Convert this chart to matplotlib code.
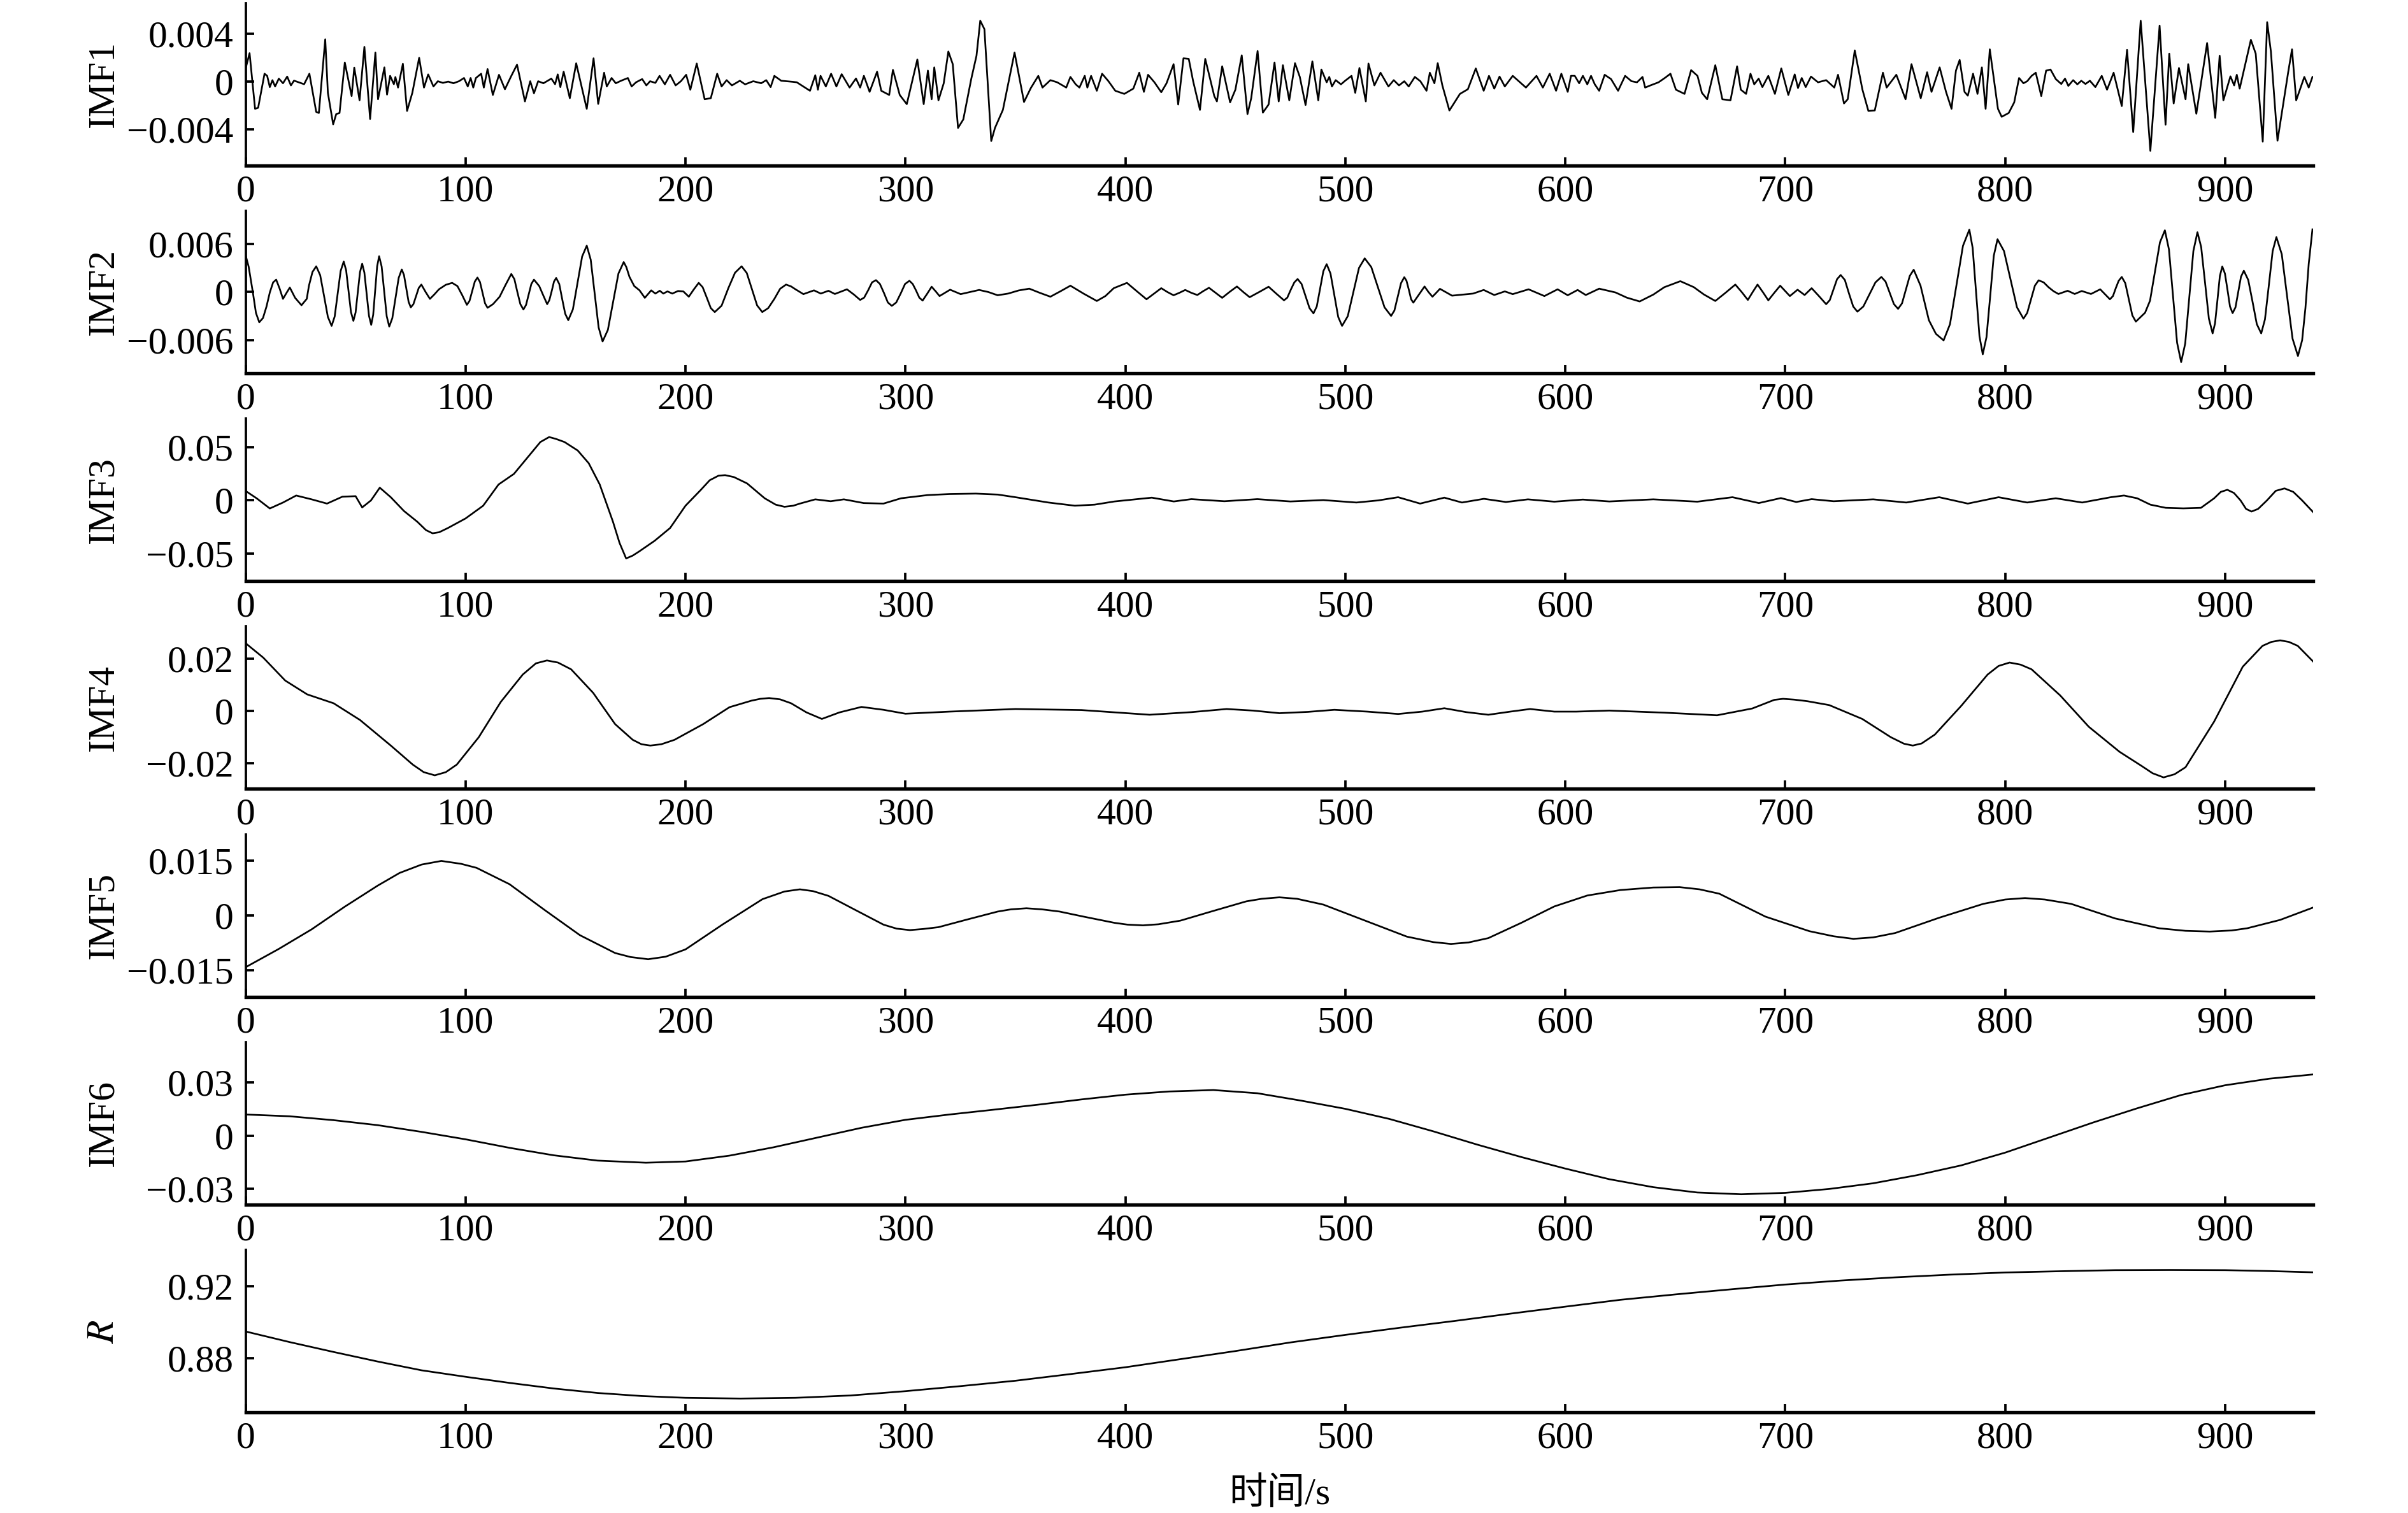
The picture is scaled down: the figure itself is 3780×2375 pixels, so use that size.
import matplotlib
matplotlib.use('Agg')
import matplotlib.pyplot as plt
import numpy as np

plt.rcParams['font.family'] = ['Liberation Serif', 'Noto Sans CJK SC', 'DejaVu Sans']
plt.rcParams['mathtext.fontset'] = 'stix'

# ---- data (time in s) ----
imf1_t = [0, 1.8, 4.3, 5.7, 8.6, 9.8, 11.0, 12.2, 13.4, 15.1, 17.0, 18.9, 20.6, 22.0, 26.6, 29.0, 32.1, 33.3,
          36.2, 37.4, 39.8, 41.2, 42.7, 45.1, 48.2, 49.4, 51.8, 54.0, 56.6, 59.0, 60.2, 63.1, 64.3, 65.7, 67.4,
          68.1, 69.3, 71.5, 73.4, 75.8, 78.9, 81.1, 83.0, 85.4, 87.4, 89.7, 92.1, 94.5, 97.0, 99.3, 101.0, 102.3,
          103.5, 104.7, 107.1, 108.3, 110.0, 112.4, 115.2, 117.9, 120.7, 123.4, 127.0, 129.4, 131.1, 133.0, 135.4,
          139.0, 140.7, 141.9, 143.1, 144.6, 147.4, 150.3, 155.1, 158.2, 160.3, 163.0, 164.2, 166.4, 168.3, 170.7,
          173.8, 175.5, 177.5, 180.3, 182.2, 183.9, 186.3, 188.2, 190.6, 193.0, 195.5, 197.9, 200.3, 202.2, 205.1,
          208.7, 211.5, 214.4, 216.4, 218.7, 221.1, 224.7, 227.1, 230.8, 234.4, 236.7, 238.7, 240.4, 243.5, 248.8,
          250.6, 256.6, 259.0, 260.2, 261.4, 263.8, 266.2, 268.6, 271.0, 274.6, 277.5, 279.4, 281.1, 283.7, 287.1,
          289.0, 292.6, 294.3, 297.4, 300.6, 305.4, 308.3, 310.2, 311.9, 313.1, 315.0, 317.4, 319.5, 321.5, 323.9,
          326.3, 329.9, 332.3, 334.0, 335.9, 339.0, 340.7, 344.3, 349.6, 353.9, 357.0, 360.4, 362.3, 365.9, 369.0,
          373.1, 375.0, 377.4, 379.1, 381.5, 382.7, 384.4, 387.0, 389.4, 392.3, 395.4, 399.5, 403.6, 406.3, 408.4,
          410.3, 413.2, 416.3, 418.7, 421.9, 424.0, 426.4, 428.8, 430.8, 433.9, 436.3, 440.4, 441.6, 444.0, 447.6,
          450.0, 452.9, 455.5, 457.2, 460.1, 462.5, 465.1, 467.8, 469.7, 471.6, 474.5, 477.1, 479.3, 481.9, 485.0,
          487.7, 489.1, 491.5, 492.7, 493.9, 495.6, 498.0, 499.9, 502.8, 504.5, 506.4, 509.3, 510.5, 513.2, 516.0,
          519.6, 522.0, 524.4, 526.8, 528.8, 531.6, 534.1, 536.9, 538.4, 540.5, 542.0, 544.1, 547.3, 552.1, 555.7,
          559.3, 562.9, 565.3, 567.7, 570.1, 572.5, 576.1, 582.1, 586.9, 589.8, 592.9, 595.8, 598.2, 601.1, 602.6,
          604.3, 606.3, 608.0, 610.0, 611.7, 613.4, 615.4, 617.9, 620.8, 624.0, 627.2, 630.1, 632.6, 635.1, 636.3,
          638.7, 642.4, 645.6, 647.8, 650.3, 654.2, 657.2, 660.1, 662.1, 664.5, 668.2, 671.4, 675.1, 678.1, 679.8,
          682.2, 684.2, 685.9, 687.9, 689.6, 692.3, 695.3, 698.2, 701.4, 704.3, 705.8, 707.5, 709.3, 711.7, 714.9,
          718.6, 722.3, 724.0, 726.7, 728.4, 731.6, 735.1, 737.8, 740.7, 744.4, 746.1, 750.5, 754.7, 757.4, 761.6,
          764.5, 766.5, 770.2, 773.1, 775.6, 777.6, 779.3, 781.5, 783.0, 785.4, 787.4, 789.4, 791.1, 793.0, 796.7,
          798.4, 801.6, 804.1, 806.3, 808.3, 810.0, 812.0, 813.9, 816.4, 818.6, 820.6, 823.0, 825.5, 827.2, 828.7,
          830.9, 832.8, 834.6, 836.5, 838.5, 841.0, 843.9, 846.3, 849.3, 853.0, 855.4, 858.2, 861.6, 866.0, 870.2,
          872.9, 874.6, 876.6, 879.0, 882.0, 883.2, 886.9, 891.8, 895.5, 897.5, 899.2, 902.4, 904.1, 905.3, 906.6,
          911.7, 913.9, 917.1, 919.1, 920.8, 923.8, 928.7, 930.4, 932.3, 936.0, 938.0, 939.7]
imf1_v = [0.00112, 0.0024, -0.00226, -0.00217, 0.00068, 0.0005, -0.00044, 0.00014, -0.00039, 0.00027, -0.00012,
          0.00044, -0.0003, 0.0001, -0.0002, 0.00068, -0.00252, -0.00261, 0.00356, -0.00092, -0.00356, -0.0027,
          -0.00261, 0.00162, -0.00119, 0.00119, -0.00155, 0.00293, -0.00311, 0.00245, -0.00146, 0.00121, -0.00107,
          0.0005, -0.0002, 0.0004, -0.00048, 0.00151, -0.00244, -0.00092, 0.00201, -0.00048, 0.00062, -0.00039,
          0.00005, -0.00009, 0.00002, -0.00012, 0.00005, 0.00032, -0.00039, 0.00032, -0.00048, 0.00032, 0.00068,
          -0.00048, 0.00107, -0.0011, 0.00059, -0.00062, 0.00046, 0.00144, -0.00164, 0.00005, -0.00096, 0.00005,
          -0.00012, 0.00027, -0.0002, 0.00062, -0.00044, 0.00085, -0.00137, 0.00155, -0.00226, 0.00197, -0.00185,
          0.00076, -0.00039, 0.00032, -0.00012, 0.00009, 0.00032, -0.00039, -0.00004, 0.00023, -0.0003, 0.00005,
          -0.00009, 0.0005, -0.00021, 0.00059, -0.0003, 0.00005, 0.00059, -0.00066, 0.00153, -0.00146, -0.00137,
          0.00068, -0.00039, 0.00014, -0.0003, 0.00009, -0.00021, 0.00005, -0.00012, 0.00014, -0.00044, 0.0005,
          0.00009, 0.0, -0.00004, -0.00075, 0.00055, -0.00066, 0.0005, -0.00039, 0.00068, -0.00039, 0.00064,
          -0.00048, 0.00028, -0.00048, 0.0005, -0.00084, 0.00085, -0.00075, -0.0011, 0.001, -0.0011, -0.00187,
          0.00187, -0.00187, 0.00094, -0.00146, 0.00121, -0.00155, -0.00012, 0.00254, 0.00148, -0.00386, -0.00315,
          0.00023, 0.00219, 0.00512, 0.00441, -0.00496, -0.00386, -0.00235, 0.00245, -0.00169, -0.00052, 0.0005,
          -0.00048, 0.00014, -0.00004, -0.00048, 0.00041, -0.00021, -0.00048, 0.0005, -0.00048, 0.0005, -0.00075,
          0.00068, 0.00005, -0.00075, -0.00101, -0.00057, 0.00076, -0.00084, 0.00059, -0.00004, -0.00087,
          -0.00012, 0.00148, -0.0019, 0.00197, 0.00192, 0.00005, -0.00235, 0.00192, -0.00119, -0.00164, 0.0013,
          -0.00172, -0.00066, 0.00222, -0.0027, -0.00137, 0.00258, -0.00258, -0.0019, 0.00162, -0.00164, 0.00139,
          -0.00155, 0.00156, 0.00041, -0.00194, 0.00171, -0.00155, 0.00103, -0.00004, 0.00041, -0.00039, 0.00014,
          -0.00021, 0.00009, 0.0005, -0.00092, 0.00116, -0.00164, 0.00153, -0.0003, 0.00076, -0.00039, 0.00014,
          -0.0003, 0.00005, -0.00039, 0.00041, 0.00005, -0.00075, 0.00076, -0.00012, 0.00156, -0.0003, -0.0024,
          -0.00101, -0.00062, 0.00112, -0.00075, 0.0005, -0.00057, 0.00044, -0.00039, 0.0005, -0.00048, 0.0005,
          -0.00048, 0.00068, -0.00075, 0.00068, -0.00084, 0.0005, 0.0005, -0.00012, 0.0005, -0.00021, 0.0005,
          -0.00021, -0.00075, 0.00059, 0.00023, -0.00075, 0.0005, 0.00005, -0.00004, 0.00041, -0.00048, -0.0003,
          -0.00004, 0.00037, 0.00068, -0.00066, -0.00101, 0.00098, 0.0005, -0.00092, -0.00146, 0.00139, -0.00146,
          -0.00155, 0.0013, -0.00066, -0.00101, 0.00068, -0.00021, 0.00027, -0.00044, 0.0005, -0.00101, 0.00112,
          -0.0011, 0.00062, -0.00052, 0.00032, -0.00044, 0.00044, -0.00004, 0.00014, -0.00048, 0.00059, -0.00181,
          -0.00146, 0.00263, -0.00066, -0.00244, -0.0024, 0.00076, -0.00048, 0.00059, -0.00146, 0.00148, -0.00137,
          0.0008, -0.00084, 0.00121, -0.00084, -0.00226, 0.00094, 0.00183, -0.00084, -0.00116, 0.00068, -0.00101,
          0.00121, -0.00226, 0.00272, -0.00226, -0.00293, -0.00261, -0.00172, 0.00032, -0.00012, 0.00005, 0.0005,
          0.00076, -0.00119, 0.00094, 0.00103, 0.00023, -0.00018, 0.00027, -0.00034, 0.00014, -0.00021, 0.00009,
          -0.00018, 0.00009, -0.00044, 0.0005, -0.00066, 0.00076, -0.00203, 0.00268, -0.00421, 0.00512, -0.00578,
          0.00471, -0.00359, 0.00236, -0.00181, 0.00116, -0.00146, 0.00148, -0.00267, 0.00325, -0.00302, 0.00219,
          -0.00155, 0.00046, -0.0003, 0.00059, -0.00057, 0.00352, 0.00236, -0.00501, 0.005, 0.00254, -0.00493,
          0.00085, 0.00272, -0.00155, 0.00041, -0.00048, 0.00041]

# IMF2 as (t, value) readings
imf2_pts = [
    (0, 0.00458), (1.4, 0.00313), (3.3, -0.00005), (4.7, -0.0026), (6.2, -0.00376), (7.9, -0.00323),
    (9.5, -0.0018), (11.0, -0.00005), (12.5, 0.0012), (13.9, 0.00154), (15.5, 0.0004), (17.0, -0.00085),
    (18.6, -0.0001), (20.1, 0.00056), (22.5, -0.00072), (25.4, -0.00164), (27.8, -0.00085), (28.8, 0.0008),
    (30.4, 0.0025), (32.1, 0.0032), (33.9, 0.0021), (35.6, -0.0004), (37.4, -0.0031), (39.1, -0.00421),
    (40.5, -0.00304), (41.85, -0.0002), (43.2, 0.00262), (44.6, 0.00379), (45.7, 0.00271), (46.8, 0.0001),
    (47.9, -0.0025), (49.0, -0.00358), (50.0, -0.00254), (51.0, -0.00003), (52.0, 0.00248), (53.0, 0.00352),
    (54.0, 0.00241), (55.05, -0.00028), (56.1, -0.00297), (57.1, -0.00408), (58.0, -0.00283), (58.9, 0.00018),
    (59.8, 0.0032), (60.7, 0.00445), (61.85, 0.00317), (63.0, 0.00008), (64.15, -0.00301), (65.3, -0.00429),
    (66.7, -0.00325), (68.15, -0.00074), (69.6, 0.00177), (71.0, 0.00281), (72.0, 0.00212), (73.05, 0.00045),
    (74.1, -0.00122), (75.1, -0.00191), (76.3, -0.0015), (77.5, -0.0005), (78.7, 0.0005), (79.9, 0.00093),
    (81.85, 0.0), (83.8, -0.00085), (85.8, -0.0003), (87.9, 0.00034), (91.0, 0.0009), (93.9, 0.00114),
    (96.3, 0.00074), (98.5, -0.0004), (100.6, -0.00159), (101.8, -0.0011), (103.0, 0.0001), (104.2, 0.0013),
    (105.4, 0.0018), (106.55, 0.00125), (107.7, -0.00008), (108.85, -0.0014), (110.0, -0.00196),
    (112.5, -0.0015), (115.5, -0.00058), (118.2, 0.0009), (120.8, 0.00225), (122.2, 0.0016), (123.55, 0.0),
    (124.9, -0.0015), (126.3, -0.00217), (127.5, -0.0016), (128.7, -0.0003), (129.9, 0.001), (131.1, 0.00154),
    (133.5, 0.00074), (135.3, -0.0004), (137.1, -0.00151), (138.1, -0.001), (139.15, 0.0001), (140.2, 0.0013),
    (141.2, 0.00175), (142.6, 0.001), (143.95, -0.0009), (145.3, -0.0027), (146.7, -0.0035), (148.8, -0.00215),
    (150.9, 0.00114), (153.0, 0.00442), (155.1, 0.00577), (156.9, 0.00403), (158.7, -0.0002), (160.5, -0.00441),
    (162.3, -0.00615), (164.7, -0.00471), (167.1, -0.0012), (169.5, 0.0023), (171.9, 0.00373), (173.1, 0.0031),
    (174.5, 0.0019), (176.7, 0.00074), (179.1, 0.00021), (181.5, -0.00072), (184.4, 0.00021), (186.3, -0.00019),
    (188.3, 0.00016), (189.9, -0.00019), (191.8, 0.00008), (194.0, -0.00019), (196.6, 0.00013), (199.0, 0.00008),
    (201.5, -0.00058), (203.7, 0.0003), (206.0, 0.00114), (207.8, 0.0006), (209.65, -0.00068), (211.5, -0.002),
    (213.3, -0.00249), (216.4, -0.0017), (219.5, 0.0005), (222.5, 0.0024), (225.5, 0.0032), (227.85, 0.00237),
    (230.2, 0.00036), (232.55, -0.00166), (234.9, -0.00249), (237.6, -0.002), (240.4, -0.00085), (243.0, 0.0004),
    (245.7, 0.00093), (248.0, 0.0007), (250.0, 0.00034), (253.6, -0.00026), (258.4, 0.00021), (261.5, -0.00019),
    (265.0, 0.00016), (267.9, -0.00024), (273.4, 0.00034), (276.5, -0.0003), (279.4, -0.00098), (281.2, -0.0007),
    (283.0, 0.0002), (284.8, 0.0012), (286.6, 0.00148), (288.4, 0.001), (290.2, -0.0001), (292.0, -0.0013),
    (293.8, -0.00172), (295.8, -0.0013), (297.8, -0.0002), (299.8, 0.001), (301.8, 0.0014), (303.3, 0.001),
    (304.8, 0.0002), (306.3, -0.0007), (307.8, -0.00106), (309.9, -0.0002), (311.9, 0.00066), (313.7, 0.0001),
    (315.5, -0.0005), (317.9, -0.0001), (320.3, 0.00029), (325.1, -0.00026), (329.3, 0.0), (333.5, 0.00026),
    (337.7, 0.0), (341.9, -0.0004), (346.7, -0.00019), (351.5, 0.0002), (356.3, 0.00042), (361.1, -0.0001),
    (365.9, -0.00058), (370.5, 0.0001), (375.0, 0.00079), (381.0, -0.0002), (387.0, -0.00111), (390.9, -0.0005),
    (394.7, 0.00048), (400.7, 0.00114), (405.2, 0.0001), (409.6, -0.0009), (413.0, -0.0002), (416.3, 0.00048),
    (419.1, 0.0), (421.9, -0.0004), (424.5, -0.0001), (427.2, 0.00026), (430.0, -0.0001), (432.7, -0.00037),
    (435.3, 0.0001), (438.0, 0.00053), (441.0, -0.0001), (444.0, -0.00072), (447.3, 0.0), (450.7, 0.00069),
    (453.6, 0.0), (456.5, -0.00064), (460.8, 0.0), (465.1, 0.00066), (468.6, -0.0002), (472.1, -0.00103),
    (473.6, -0.0007), (475.2, 0.0003), (476.8, 0.0012), (478.3, 0.00162), (480.1, 0.001), (481.9, -0.0005),
    (483.7, -0.002), (485.5, -0.00265), (487.0, -0.0018), (488.5, 0.0004), (490.0, 0.0026), (491.5, 0.00347),
    (493.25, 0.0023), (495.0, -0.0004), (496.75, -0.0031), (498.5, -0.00421), (501.1, -0.003), (503.65, 0.0),
    (506.2, 0.003), (508.8, 0.00419), (511.8, 0.0031), (514.8, 0.0006), (517.8, -0.0019), (520.8, -0.00297),
    (522.3, -0.0023), (523.8, -0.0006), (525.3, 0.0011), (526.8, 0.00185), (527.8, 0.0014), (528.85, 0.0003),
    (529.9, -0.0009), (530.9, -0.00132), (533.5, -0.0003), (536.0, 0.00069), (537.8, 0.0), (539.6, -0.00058),
    (541.3, -0.0001), (543.0, 0.0004), (548.5, -0.00045), (558.1, -0.00019), (562.9, 0.00026), (567.7, -0.00037),
    (572.5, 0.00008), (576.1, -0.00026), (583.3, 0.00034), (590.5, -0.0005), (596.5, 0.00034), (601.1, -0.0004),
    (605.6, 0.00026), (609.3, -0.00037), (615.4, 0.00042), (622.8, -0.00005), (628.0, -0.0007), (633.8, -0.00117),
    (640.0, -0.00032), (645.0, 0.0006), (652.3, 0.00135), (658.4, 0.00061), (663.0, -0.0003), (668.2, -0.00111),
    (672.8, -0.0001), (677.3, 0.00093), (680.2, 0.0), (683.0, -0.00098), (685.2, 0.0), (687.4, 0.00093),
    (689.8, 0.0), (692.3, -0.00103), (695.0, -0.0001), (697.7, 0.00079), (702.1, -0.0005), (705.6, 0.00029),
    (708.8, -0.00037), (712.0, 0.00048), (715.3, -0.0005), (718.6, -0.00151), (720.25, -0.001), (721.9, 0.0003),
    (723.55, 0.0016), (725.2, 0.00212), (727.1, 0.0015), (729.0, -0.0002), (730.9, -0.0018), (732.8, -0.00244),
    (735.5, -0.0018), (738.25, -0.0003), (741.0, 0.0012), (743.7, 0.00188), (745.6, 0.0013), (747.5, -0.0001),
    (749.4, -0.0015), (751.3, -0.00209), (753.1, -0.0014), (754.85, 0.0003), (756.6, 0.002), (758.4, 0.00278),
    (761.5, 0.0008), (765.3, -0.0035), (768.5, -0.0052), (772.0, -0.00601), (774.9, -0.004), (777.85, 0.00088),
    (780.8, 0.00575), (783.7, 0.00776), (785.2, 0.0055), (786.75, 0.0), (788.3, -0.0055), (789.8, -0.00774),
    (791.5, -0.0056), (793.15, -0.0006), (794.8, 0.0045), (796.5, 0.00657), (799.45, 0.0051), (802.4, 0.0016),
    (805.35, -0.0019), (808.3, -0.00331), (810.0, -0.0026), (811.75, -0.0009), (813.5, 0.0008), (815.2, 0.00146),
    (817.5, 0.0012), (819.7, 0.0006), (822.0, 0.0001), (824.2, -0.00024), (828.4, 0.00016), (831.6, -0.00024),
    (834.8, 0.00013), (839.0, -0.00024), (843.2, 0.00034), (847.6, -0.0009), (849.0, -0.0005), (850.3, 0.0005),
    (851.6, 0.0014), (853.0, 0.00188), (854.6, 0.0011), (856.2, -0.0009), (857.8, -0.0029), (859.4, -0.00368),
    (863.6, -0.00257), (865.85, -0.00107), (868.1, 0.00256), (870.35, 0.00618), (872.6, 0.00768),
    (874.45, 0.0053), (876.3, -0.0005), (878.15, -0.0063), (880.0, -0.00872), (881.85, -0.0064),
    (883.7, -0.0006), (885.55, 0.0051), (887.4, 0.00744), (889.1, 0.0056), (890.85, 0.0012), (892.6, -0.0033),
    (894.3, -0.00514), (895.4, -0.0039), (896.5, -0.001), (897.6, 0.002), (898.7, 0.00318), (899.9, 0.0023),
    (901.05, 0.0003), (902.2, -0.0018), (903.4, -0.00262), (904.7, -0.0019), (905.95, 0.0), (907.2, 0.0019),
    (908.5, 0.00265), (910.5, 0.0015), (912.45, -0.0012), (914.4, -0.004), (916.4, -0.00514), (918.1, -0.0034),
    (919.85, 0.0008), (921.6, 0.0051), (923.3, 0.00683), (925.75, 0.0047), (928.2, -0.0006), (930.65, -0.0058),
    (933.1, -0.00795), (935.0, -0.006), (936.5, -0.002), (938.0, 0.0035), (939.7, 0.0078)]

imf3_pts = [
    (0, 0.0089), (5, 0.002), (11, -0.0076), (17, -0.002), (23, 0.0046), (30, 0.001), (37, -0.003), (44, 0.0035),
    (50, 0.004), (53, -0.0066), (57, 0.0), (61, 0.012), (66, 0.003), (72, -0.01), (78, -0.02), (82, -0.028),
    (85, -0.031), (88, -0.030), (92, -0.026), (100, -0.017), (108, -0.005), (115, 0.015), (122, 0.025),
    (130, 0.045), (134, 0.055), (138, 0.0597), (141, 0.058), (145, 0.055), (151, 0.047), (156, 0.035),
    (161, 0.015), (167, -0.02), (170, -0.04), (173, -0.0547), (176, -0.052), (179, -0.048), (186, -0.038),
    (193, -0.026), (200, -0.005), (207, 0.01), (211, 0.019), (215, 0.0233), (218, 0.0238), (222, 0.022),
    (228, 0.016), (236, 0.002), (241, -0.004), (245, -0.006), (249, -0.005), (252, -0.003), (259, 0.001),
    (266, -0.0008), (272, 0.001), (281, -0.0025), (290, -0.003), (298, 0.002), (310, 0.005), (320, 0.006),
    (332, 0.0064), (342, 0.0055), (350, 0.003), (365, -0.002), (377, -0.005), (386, -0.004), (395, -0.001),
    (412, 0.0026), (422, -0.001), (430, 0.0012), (445, -0.0008), (460, 0.0012), (475, -0.001), (490, 0.0003),
    (505, -0.002), (515, 0.0), (524, 0.003), (534, -0.003), (545, 0.0026), (553, -0.002), (563, 0.0015),
    (573, -0.0015), (583, 0.001), (595, -0.0012), (608, 0.0008), (620, -0.001), (640, 0.001), (660, -0.0012),
    (676, 0.003), (688, -0.0025), (698, 0.0022), (705, -0.0015), (712, 0.0012), (722, -0.0008), (740, 0.001),
    (755, -0.002), (770, 0.003), (783, -0.003), (797, 0.003), (810, -0.002), (823, 0.002), (835, -0.002),
    (848, 0.003), (854, 0.0046), (860, 0.002), (866, -0.004), (873, -0.007), (881, -0.0075), (889, -0.007),
    (895, 0.002), (898, 0.008), (901, 0.01), (904, 0.007), (907, 0.0), (909.5, -0.008), (912, -0.0105),
    (915, -0.008), (919, 0.0), (923, 0.009), (927, 0.0113), (931, 0.008), (935, 0.0), (940, -0.011)]

imf4_pts = [
    (0, 0.026), (8, 0.0205), (18, 0.0117), (28, 0.0064), (40, 0.003), (52, -0.0034), (66, -0.0132),
    (76, -0.0205), (81, -0.0234), (86, -0.0246), (91, -0.0234), (96, -0.0205), (106, -0.01), (116, 0.0035),
    (126, 0.014), (132, 0.0183), (137, 0.0194), (142, 0.0186), (148, 0.016), (158, 0.007), (168, -0.005),
    (176, -0.011), (180, -0.0127), (184, -0.0132), (189, -0.0127), (195, -0.011), (208, -0.005), (220, 0.0015),
    (230, 0.004), (234, 0.0047), (238, 0.005), (243, 0.0045), (248, 0.003), (255, -0.0005), (262, -0.003),
    (270, -0.0005), (280, 0.0016), (290, 0.0005), (300, -0.001), (320, -0.0002), (350, 0.0008), (380, 0.0004),
    (411, -0.0014), (430, -0.0004), (446, 0.0008), (458, 0.0002), (470, -0.0008), (483, -0.0003), (495, 0.0005),
    (510, -0.0002), (524, -0.0011), (535, -0.0002), (545, 0.0011), (555, -0.0004), (565, -0.0014),
    (575, -0.0002), (584, 0.0008), (595, -0.0002), (605, -0.0002), (620, 0.0002), (645, -0.0006),
    (669, -0.0016), (685, 0.001), (695, 0.0043), (699, 0.0047), (704, 0.0044), (710, 0.0038), (720, 0.0023),
    (735, -0.003), (748, -0.01), (754, -0.0125), (758, -0.0132), (762, -0.0124), (768, -0.009), (780, 0.002),
    (792, 0.014), (797, 0.0173), (802, 0.0186), (807, 0.0178), (812, 0.016), (825, 0.006), (838, -0.006),
    (852, -0.0156), (862, -0.021), (867, -0.0238), (872, -0.0254), (877, -0.0242), (882, -0.0215),
    (895, -0.004), (908, 0.017), (917, 0.025), (921, 0.0265), (925, 0.0271), (929, 0.0265), (933, 0.025),
    (940, 0.019)]

imf5_pts = [
    (0, -0.0142), (15, -0.0092), (30, -0.0038), (45, 0.0024), (60, 0.0082), (70, 0.0117), (80, 0.014),
    (89, 0.015), (98, 0.0142), (105, 0.0131), (120, 0.0086), (136, 0.0015), (152, -0.0054), (168, -0.0103),
    (175, -0.0114), (183, -0.012), (191, -0.0113), (200, -0.0093), (217, -0.0024), (235, 0.0045), (245, 0.0066),
    (252, 0.0072), (258, 0.0067), (265, 0.0054), (277, 0.0016), (290, -0.0025), (296, -0.0036), (302, -0.004),
    (308, -0.0037), (315, -0.0032), (328, -0.0011), (342, 0.0011), (348, 0.0017), (355, 0.002), (362, 0.0017),
    (370, 0.0011), (381, -0.0003), (395, -0.002), (401, -0.0025), (408, -0.0027), (415, -0.0024),
    (425, -0.0014), (439, 0.0011), (455, 0.0039), (462, 0.0046), (470, 0.005), (478, 0.0046), (490, 0.003),
    (509, -0.0014), (528, -0.0058), (540, -0.0073), (548, -0.0078), (556, -0.0074), (565, -0.0062),
    (580, -0.002), (595, 0.0025), (610, 0.0055), (625, 0.007), (640, 0.0077), (652, 0.0078), (661, 0.0072),
    (670, 0.006), (691, -0.0003), (711, -0.0043), (722, -0.0057), (731, -0.0064), (740, -0.006),
    (750, -0.0048), (770, -0.0006), (790, 0.0032), (800, 0.0044), (809, 0.0048), (818, 0.0044), (830, 0.0032),
    (850, -0.0008), (870, -0.0035), (882, -0.0042), (893, -0.0044), (903, -0.0041), (910, -0.0035),
    (925, -0.0012), (940, 0.0022)]

imf6_t = [0, 20, 40, 60, 80, 100, 120, 140, 160, 182, 200, 220, 240, 260, 280, 300, 320, 340, 360, 380, 400, 420,
          440, 460, 480, 500, 520, 540, 560, 580, 600, 620, 640, 660, 680, 700, 720, 740, 760, 780, 800, 820, 840,
          860, 880, 900, 920, 940]
imf6_v = [0.012, 0.011, 0.0088, 0.006, 0.0022, -0.002, -0.0068, -0.011, -0.014, -0.0152, -0.0145, -0.0112,
          -0.0065, -0.001, 0.0045, 0.009, 0.012, 0.0147, 0.0175, 0.0205, 0.0232, 0.025, 0.0258, 0.024, 0.0198,
          0.0152, 0.0095, 0.0025, -0.005, -0.012, -0.0185, -0.0245, -0.029, -0.032, -0.033, -0.0322, -0.03, -0.0268,
          -0.0222, -0.0167, -0.0095, -0.001, 0.0075, 0.0155, 0.023, 0.0285, 0.0322, 0.0346]

r_t = [0, 20, 40, 60, 80, 100, 120, 140, 160, 180, 200, 225, 250, 275, 300, 325, 350, 375, 400, 425, 450, 475,
       500, 525, 550, 575, 600, 625, 650, 675, 700, 725, 750, 775, 800, 825, 850, 875, 900, 920, 940]
r_v = [0.8949, 0.889, 0.8835, 0.8782, 0.8733, 0.8697, 0.8663, 0.8632, 0.8607, 0.859, 0.858, 0.8576, 0.858,
       0.8593, 0.8617, 0.8645, 0.8675, 0.8712, 0.875, 0.8795, 0.884, 0.8888, 0.893, 0.897, 0.9008, 0.9048,
       0.9087, 0.9125, 0.9155, 0.9183, 0.921, 0.9232, 0.925, 0.9265, 0.9277, 0.9284, 0.929, 0.9291, 0.929,
       0.9285, 0.9278]

names = ['IMF1', 'IMF2', 'IMF3', 'IMF4', 'IMF5', 'IMF6', '$R$']
yticks = [[-0.004, 0, 0.004], [-0.006, 0, 0.006], [-0.05, 0, 0.05], [-0.02, 0, 0.02],
          [-0.015, 0, 0.015], [-0.03, 0, 0.03], [0.88, 0.92]]
ytick_labels = [['\u22120.004', '0', '0.004'], ['\u22120.006', '0', '0.006'], ['\u22120.05', '0', '0.05'],
                ['\u22120.02', '0', '0.02'], ['\u22120.015', '0', '0.015'], ['\u22120.03', '0', '0.03'],
                ['0.88', '0.92']]
ylims = [(-0.0070, 0.0066), (-0.0101, 0.0101), (-0.076, 0.077), (-0.0298, 0.0324),
         (-0.0223, 0.0223), (-0.0388, 0.0528), (0.8499, 0.9402)]
xticks = [0, 100, 200, 300, 400, 500, 600, 700, 800, 900]


def unzip(pts):
    return [p[0] for p in pts], [p[1] for p in pts]


series = [(imf1_t, imf1_v), unzip(imf2_pts), unzip(imf3_pts), unzip(imf4_pts),
          unzip(imf5_pts), (imf6_t, imf6_v), (r_t, r_v)]

fig, axes = plt.subplots(7, 1, figsize=(12.6, 2375 / 300), dpi=300)
fig.subplots_adjust(left=0.102, right=0.9606, top=0.998, bottom=0.0665, hspace=0.28)

fs = 14.3
for i, ax in enumerate(axes):
    t, v = series[i]
    ax.plot(t, v, color='black', lw=0.65)
    ax.set_xlim(0, 940)
    ax.set_ylim(*ylims[i])
    ax.set_xticks(xticks)
    ax.set_xticklabels([str(x) for x in xticks])
    ax.set_yticks(yticks[i])
    ax.set_yticklabels(ytick_labels[i])
    ax.spines['top'].set_visible(False)
    ax.spines['right'].set_visible(False)
    ax.spines['left'].set_linewidth(0.9)
    ax.spines['bottom'].set_linewidth(1.3)
    ax.tick_params(direction='in', length=3.2, width=0.9, labelsize=fs)
    ax.tick_params(axis='x', pad=3.5)
    ax.tick_params(axis='y', pad=4.5)
    ax.set_ylabel(names[i], fontsize=fs)
    ax.yaxis.set_label_coords(-0.060, 0.5)

axes[-1].set_xlabel('时间/s', fontsize=fs, labelpad=8)

fig.savefig('out.png', dpi=300)
